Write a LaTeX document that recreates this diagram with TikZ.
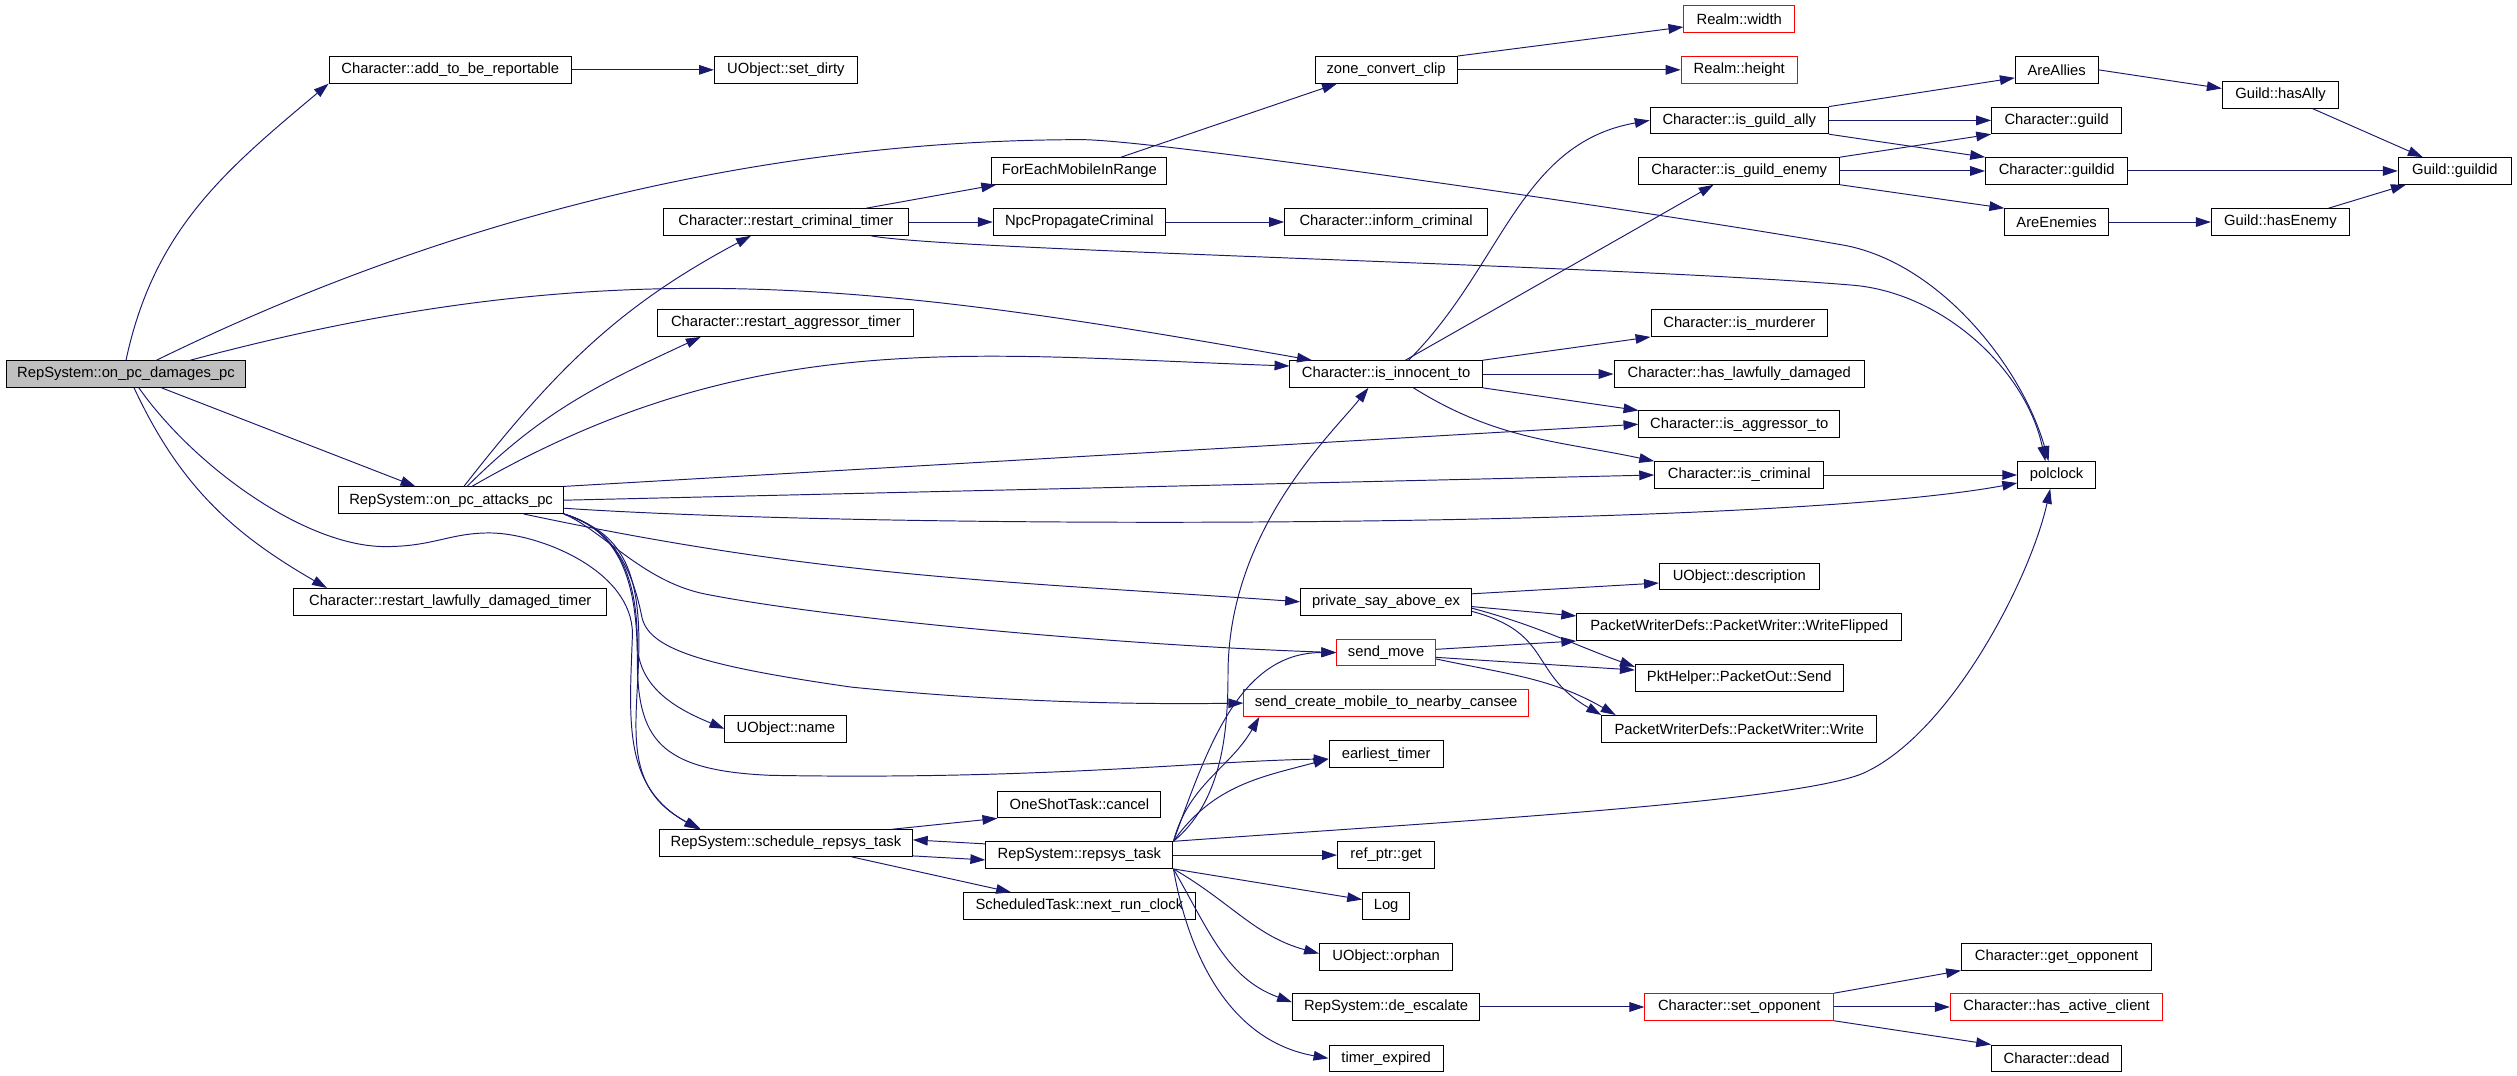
\documentclass[tikz,border=0pt]{standalone}
\usepackage{fontspec}
\setmainfont{Liberation Sans}
\usepackage{tikz}
\usetikzlibrary{arrows.meta}
\definecolor{edgeblue}{HTML}{191970}

\begin{document}
\begin{tikzpicture}[x=1pt,y=1pt]
\useasboundingbox (0,0) rectangle (1568,-670);
\tikzset{fn/.style = {shape=rectangle,draw,line width=0.6pt,minimum width=#1,minimum height=16.6pt,inner xsep=0pt,inner ysep=0pt,font=\fontsize{9.2}{10}\selectfont}}
\tikzset{fnred/.style = {fn=#1,draw=red}}
% vertices
\node[fn=149pt,fill=black!25] (dmg) at (78.5,-233) {RepSystem::on\_pc\_damages\_pc};
\node[fn=151pt] (atbr) at (280.5,-43.5) {Character::add\_to\_be\_reportable};
\node[fn=140pt] (atk) at (281,-311.6) {RepSystem::on\_pc\_attacks\_pc};
\node[fn=195pt] (rldt) at (280.5,-374.9) {Character::restart\_lawfully\_damaged\_timer};
\node[fn=89pt] (dirty) at (489.6,-43.5) {UObject::set\_dirty};
\node[fn=153pt] (rct) at (489.6,-138.3) {Character::restart\_criminal\_timer};
\node[fn=159.5pt] (rat) at (489.6,-201.3) {Character::restart\_aggressor\_timer};
\node[fn=76pt] (oname) at (489.6,-454) {UObject::name};
\node[fn=157.5pt] (sch) at (489.6,-525.2) {RepSystem::schedule\_repsys\_task};
\node[fn=109pt] (femr) at (672.4,-106.5) {ForEachMobileInRange};
\node[fn=107.3pt] (npc) at (672.4,-138.3) {NpcPropagateCriminal};
\node[fn=101.5pt] (cancel) at (672.4,-501.2) {OneShotTask::cancel};
\node[fn=116.6pt] (rep) at (672.4,-532.7) {RepSystem::repsys\_task};
\node[fn=144.5pt] (nrc) at (672.4,-564.4) {ScheduledTask::next\_run\_clock};
\node[fn=88.6pt] (zcc) at (863.5,-43.5) {zone\_convert\_clip};
\node[fn=126.5pt] (infc) at (863.5,-138.3) {Character::inform\_criminal};
\node[fn=119.8pt] (inn) at (863.5,-233) {Character::is\_innocent\_to};
\node[fn=106.6pt] (psa) at (863.5,-374.9) {private\_say\_above\_ex};
\node[fnred=61.6pt] (smove) at (863.5,-406.5) {send\_move};
\node[fnred=177.3pt] (scm) at (863.5,-438) {send\_create\_mobile\_to\_nearby\_cansee};
\node[fn=71.2pt] (etim) at (863.5,-469.8) {earliest\_timer};
\node[fn=60.6pt] (rget) at (863.5,-532.7) {ref\_ptr::get};
\node[fn=29.3pt] (log) at (863.5,-564.4) {Log};
\node[fn=83pt] (orph) at (863.5,-596) {UObject::orphan};
\node[fn=116.7pt] (desc) at (863.5,-627.3) {RepSystem::de\_escalate};
\node[fn=71.2pt] (texp) at (863.5,-659.3) {timer\_expired};
\node[fnred=69pt] (rw) at (1083.5,-11.8) {Realm::width};
\node[fnred=72.5pt] (rh) at (1083.5,-43.5) {Realm::height};
\node[fn=111pt] (iga) at (1083.5,-75) {Character::is\_guild\_ally};
\node[fn=125pt] (ige) at (1083.5,-106.5) {Character::is\_guild\_enemy};
\node[fn=110pt] (imur) at (1083.5,-201.3) {Character::is\_murderer};
\node[fn=156pt] (hld) at (1083.5,-233) {Character::has\_lawfully\_damaged};
\node[fn=125pt] (iagg) at (1083.5,-264.3) {Character::is\_aggressor\_to};
\node[fn=105.4pt] (icrim) at (1083.5,-295.9) {Character::is\_criminal};
\node[fn=99.5pt] (udesc) at (1083.5,-359.2) {UObject::description};
\node[fn=202.5pt] (wflip) at (1083.5,-390.7) {PacketWriterDefs::PacketWriter::WriteFlipped};
\node[fn=129.5pt] (send) at (1083.5,-422.4) {PktHelper::PacketOut::Send};
\node[fn=171.4pt] (write) at (1083.5,-454) {PacketWriterDefs::PacketWriter::Write};
\node[fnred=117.6pt] (setop) at (1083.5,-627.3) {Character::set\_opponent};
\node[fn=51.5pt] (allies) at (1281.2,-43.5) {AreAllies};
\node[fn=81pt] (cguild) at (1281.2,-75) {Character::guild};
\node[fn=88.5pt] (cgid) at (1281.2,-106.5) {Character::guildid};
\node[fn=64.5pt] (enemies) at (1281.2,-138.3) {AreEnemies};
\node[fn=48.5pt] (polc) at (1281.2,-295.9) {polclock};
\node[fn=118.5pt] (getop) at (1281.2,-596) {Character::get\_opponent};
\node[fnred=132.4pt] (hac) at (1281.2,-627.3) {Character::has\_active\_client};
\node[fn=81pt] (dead) at (1281.2,-659.3) {Character::dead};
\node[fn=72.6pt] (hasally) at (1420.7,-59.1) {Guild::hasAlly};
\node[fn=86.1pt] (hasenemy) at (1420.6,-138.3) {Guild::hasEnemy};
\node[fn=70.5pt] (gguildid) at (1529.3,-106.5) {Guild::guildid};
%edges
\tikzset{edge/.style = {->, edgeblue, line width=0.6pt, > = {Triangle[length=9.3pt,width=6pt]}}}
% on_pc_damages_pc
\draw[edge] (dmg.north) to[out=78,in=220] (atbr.south west);
\draw[edge] ([xshift=19pt]dmg.north) .. controls (278,-136) and (474,-87) .. (674,-87) .. controls (720,-87) and (1050,-135) .. (1150,-153) .. controls (1210,-165) and (1260,-230) .. ([xshift=-5pt]polc.north);
\draw[edge] ([xshift=40pt]dmg.north) to[out=15,in=170] ([xshift=14pt]inn.north west);
\draw[edge] (dmg) -- (atk);
\draw[edge] ([xshift=5pt]dmg.south) to[out=-65,in=150] ([xshift=21pt]rldt.north west);
\draw[edge] ([xshift=8pt]dmg.south) .. controls (121,-290.5) and (190,-340.5) .. (240,-340.5) .. controls (270,-340.5) and (280,-332) .. (305,-332) .. controls (335,-332) and (394,-355) .. (394,-395) .. controls (392,-450) and (388,-490) .. ([xshift=25pt]sch.north west);
% on_pc_attacks_pc
\draw[edge] ([xshift=8pt]atk.north) to[out=52,in=208] ([xshift=55pt]rct.south west);
\draw[edge] ([xshift=10pt]atk.north) to[out=45,in=205] ([xshift=27pt]rat.south west);
\draw[edge] ([xshift=13pt]atk.north) to[out=30,in=178] ([yshift=5pt]inn.west);
\draw[edge] (atk.north east) -- (iagg.west);
\draw[edge] (atk.east) -- (icrim.west);
\draw[edge] ([yshift=-5pt]atk.east) .. controls (550,-330) and (1100,-330) .. ([yshift=-5pt]polc.west);
\draw[edge] ([xshift=-25pt]atk.south east) to[out=-12,in=176] (psa.west);
\draw[edge] (atk.south east) .. controls (375,-330) and (400,-362) .. (439,-370) .. controls (520,-386) and (700,-402) .. (smove.west);
\draw[edge] (atk.south east) .. controls (385,-330) and (395,-360) .. (400,-385) .. controls (405,-405) and (440,-415) .. (530,-428) .. controls (620,-437) and (700,-439) .. (scm.west);
\draw[edge] (atk.south east) .. controls (385,-330) and (397,-360) .. (397,-400) .. controls (397,-430) and (425,-443) .. (oname.west);
\draw[edge] (atk.south east) .. controls (385,-330) and (397,-360) .. (397,-410) .. controls (397,-460) and (410,-480) .. (480,-483) .. controls (650,-486) and (750,-474) .. ([yshift=-3pt]etim.west);
\draw[edge] (atk.south east) .. controls (380,-330) and (398,-345) .. (398,-400) .. controls (398,-450) and (385,-490) .. ([xshift=26pt]sch.north west);
\draw[edge] (atbr) -- (dirty);
% restart_criminal_timer
\draw[edge] ([xshift=50pt]rct.north) -- ([xshift=3pt]femr.south west);
\draw[edge] (rct) -- (npc);
\draw[edge] ([xshift=53pt]rct.south) .. controls (590,-156) and (1000,-165) .. (1153.5,-177.6) .. controls (1210,-182) and (1262,-230) .. ([xshift=-7pt]polc.north);
\draw[edge] ([xshift=26pt]femr.north) -- ([xshift=14pt]zcc.south west);
\draw[edge] (zcc.north east) -- ([yshift=-5pt]rw.west);
\draw[edge] (zcc) -- (rh);
\draw[edge] (npc) -- (infc);
% is_innocent_to
\draw[edge] ([xshift=14pt]inn.north) to[out=45,in=190] (iga.west);
\draw[edge] ([xshift=12pt]inn.north) -- ([xshift=-16pt]ige.south);
\draw[edge] (inn.north east) -- (imur.south west);
\draw[edge] (inn) -- (hld);
\draw[edge] (inn.south east) -- (iagg.north west);
\draw[edge] ([xshift=17pt]inn.south) to[out=-32,in=168] (icrim.north west);
\draw[edge] (icrim) -- (polc);
% guilds
\draw[edge] (iga.north east) -- ([yshift=-5pt]allies.west);
\draw[edge] (iga) -- (cguild);
\draw[edge] (iga.south east) -- (cgid.north west);
\draw[edge] (ige.north east) -- (cguild.south west);
\draw[edge] (ige) -- (cgid);
\draw[edge] (ige.south east) -- (enemies.north west);
\draw[edge] (allies.east) -- ([yshift=4pt]hasally.west);
\draw[edge] ([xshift=20pt]hasally.south) -- ([xshift=-20pt]gguildid.north);
\draw[edge] (cgid) -- (gguildid);
\draw[edge] (enemies) -- (hasenemy);
\draw[edge] ([xshift=30pt]hasenemy.north) -- ([xshift=5pt]gguildid.south west);
% packets
\draw[edge] ([yshift=5pt]psa.east) -- ([yshift=-4pt]udesc.west);
\draw[edge] ([yshift=-3pt]psa.east) -- ([yshift=7pt]wflip.west);
\draw[edge] ([yshift=-4pt]psa.east) to[out=-15,in=160] ([yshift=7pt]send.west);
\draw[edge] ([yshift=-6pt]psa.east) to[out=-15,in=150,looseness=1.3] (write.north west);
\draw[edge] ([yshift=2pt]smove.east) -- (wflip.south west);
\draw[edge] ([yshift=-3pt]smove.east) -- ([yshift=5pt]send.west);
\draw[edge] ([yshift=-4pt]smove.east) to[out=-12,in=150] ([xshift=9pt]write.north west);
% repsys
\draw[edge] ([xshift=-13pt]sch.north east) -- (cancel.south west);
\draw[edge] ([yshift=-8pt]sch.east) -- ([yshift=-3pt]rep.west);
\draw[edge] ([yshift=7pt]rep.west) -- ([yshift=2pt]sch.east);
\draw[edge] ([xshift=41pt]sch.south) -- ([xshift=30pt]nrc.north west);
\draw[edge] (rep.north east) .. controls (760,-500) and (765,-460) .. (765,-420) .. controls (765,-330) and (830,-270) .. ([xshift=-11pt]inn.south);
\draw[edge] (rep.north east) to[out=70,in=180] (smove.west);
\draw[edge] (rep.north east) to[out=75,in=240] ([xshift=10pt]scm.south west);
\draw[edge] (rep.north east) to[out=55,in=195] ([yshift=-3pt]etim.west);
\draw[edge] (rep.north east) .. controls (900,-512) and (1115,-500) .. (1160,-482) .. controls (1215,-458) and (1265,-360) .. ([xshift=-4pt]polc.south);
\draw[edge] (rep) -- (rget);
\draw[edge] (rep.south east) -- ([yshift=4pt]log.west);
\draw[edge] (rep.south east) to[out=-30,in=165] ([yshift=2pt]orph.west);
\draw[edge] (rep.south east) to[out=-60,in=160] ([yshift=3pt]desc.west);
\draw[edge] (rep.south east) to[out=-80,in=170] (texp.west);
\draw[edge] (desc) -- (setop);
\draw[edge] (setop.north east) -- (getop.south west);
\draw[edge] (setop) -- (hac);
\draw[edge] (setop.south east) -- (dead.north west);
\end{tikzpicture}
\end{document}
